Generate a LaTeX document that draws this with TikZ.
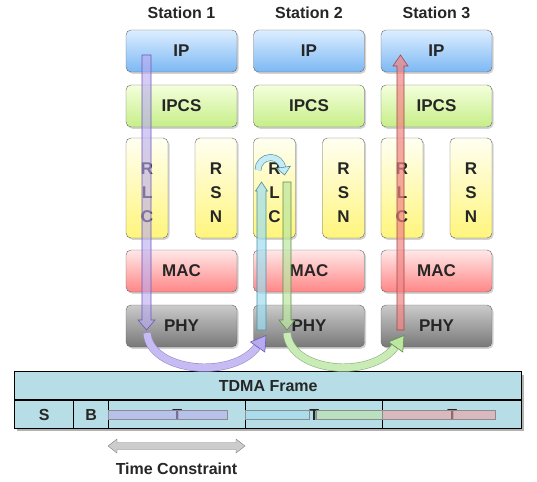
\documentclass[tikz,border=0pt]{standalone}
\usepackage{fontspec}
\setmainfont{Liberation Sans}
\usetikzlibrary{shadows}

\definecolor{ipTop}{HTML}{DDEEFF}
\definecolor{ipBot}{HTML}{7CB8F4}
\definecolor{ipcsTop}{HTML}{F4FFDC}
\definecolor{ipcsBot}{HTML}{C6EE88}
\definecolor{rlcTop}{HTML}{FFFFF2}
\definecolor{rlcBot}{HTML}{FFF57C}
\definecolor{macTop}{HTML}{FFE8E8}
\definecolor{macBot}{HTML}{FF8686}
\definecolor{phyTop}{HTML}{CBCBCB}
\definecolor{phyBot}{HTML}{787878}
\definecolor{frameBlue}{HTML}{B7DDE6}
\definecolor{txt}{HTML}{262626}
\definecolor{purA}{HTML}{B8AAF0}
\definecolor{purB}{HTML}{6F58B8}
\definecolor{cyaA}{HTML}{9FDDF0}
\definecolor{cyaB}{HTML}{4F8FA0}
\definecolor{grnA}{HTML}{BCE6A2}
\definecolor{grnB}{HTML}{5F8F48}
\definecolor{redA}{HTML}{F28484}
\definecolor{redB}{HTML}{A04848}

\tikzset{
  layer/.style={draw=black!60, rounded corners=5pt, minimum width=111pt,
    minimum height=42pt, inner sep=0pt, text=txt,
    font=\bfseries\fontsize{17}{24}\selectfont,
    drop shadow={shadow xshift=1.6pt, shadow yshift=-1.8pt, opacity=.35}},
  tall/.style={layer, minimum width=42pt, minimum height=100pt,
    top color=rlcTop, bottom color=rlcBot},
  letters/.style={align=center, text=txt, inner sep=0pt, yshift=-5pt,
    font=\bfseries\fontsize{17}{24}\selectfont},
  cell/.style={draw=black, line width=1.4pt, fill=frameBlue, inner sep=0pt,
    minimum height=28pt, anchor=north west, text=txt,
    font=\bfseries\fontsize{16}{16}\selectfont},
  title/.style={text=txt, font=\bfseries\fontsize{16}{16}\selectfont}
}

\begin{document}
\begin{tikzpicture}[x=1pt,y=-1pt]
            \useasboundingbox (0,0) rectangle (537,481);

            % Stations
            \foreach \i/\cx in {1/181.5,2/309,3/436.5}{
            \node[title] (st\i) at (\cx,13) {Station \i};
            \node[layer, top color=ipTop, bottom color=ipBot] (ip\i) at (\cx,51) {IP};
            \node[layer, top color=ipcsTop, bottom color=ipcsBot] (ipcs\i) at (\cx,106) {IPCS};
            \node[tall] (rlc\i) at (\cx-34.5,188) {};
            \node[letters] (rlct\i) at (rlc\i) {R\\L\\C};
            \node[tall] (rsn\i) at (\cx+34.5,188) {};
            \node[letters] (rsnt\i) at (rsn\i) {R\\S\\N};
            \node[layer, top color=macTop, bottom color=macBot] (mac\i) at (\cx,271) {MAC};
            \node[layer, top color=phyTop, bottom color=phyBot] (phy\i) at (\cx,326) {PHY};
            }

            % TDMA frame
            \fill[black!30] (17,375) rectangle (524,431);
            \node[cell, minimum width=507pt] (tdma) at (14,371) {TDMA Frame};
            \foreach \n/\x/\w/\lab in {s/14/59/S,b/73/35/B,t1/108/137/T,t2/245/137/T,t3/382/139/T}{
            \node[cell, minimum width=\w pt] (\n) at (\x,400) {\lab};
            }

            % slots
            \filldraw[fill=purA, draw=black!45, fill opacity=.55] (108,410.5) rectangle (227,419);
            \filldraw[fill=cyaA, draw=black!45, fill opacity=.55] (245,410.5) rectangle (309,419);
            \filldraw[fill=grnA, draw=black!45, fill opacity=.55] (316,410.5) rectangle (382,419);
            \filldraw[fill=redA!80, draw=black!45, fill opacity=.55] (382,410.5) rectangle (495,419);

            % Time constraint
            \filldraw[fill=black!20, draw=black!50] (108,446) -- (117,439) -- (117,442.5) -- (236,442.5)
            -- (236,439) -- (245,446) -- (236,453) -- (236,449.5) -- (117,449.5) -- (117,453) -- cycle;
            \node[title] (tc) at (176.5,469) {Time Constraint};

            % vertical arrows
            \filldraw[fill=purA, draw=purB, fill opacity=.6, line width=.6pt] (142,55) -- (151,55) -- (151,320)
            -- (155,320) -- (146.5,330) -- (138,320) -- (142,320) -- cycle;
            \filldraw[fill=cyaA, draw=cyaB, fill opacity=.7, line width=.6pt] (257,330) -- (266,330) -- (266,191)
            -- (267.5,191) -- (261.5,182) -- (255.5,191) -- (257,191) -- cycle;
            \filldraw[fill=grnA, draw=grnB, fill opacity=.7, line width=.6pt] (283,182) -- (291,182) -- (291,320)
            -- (295,320) -- (287,330) -- (279,320) -- (283,320) -- cycle;
            \filldraw[fill=redA, draw=redB, fill opacity=.7, line width=.6pt] (397,330) -- (404,330) -- (404,66)
            -- (408,66) -- (400.5,55) -- (393,66) -- (397,66) -- cycle;

            % turn in RLC
            \draw[draw=cyaB, double=cyaA!60, double distance=5.5pt, line width=.6pt]
            (258,170) arc[start angle=180, end angle=350, radius=12.5];
            \filldraw[fill=cyaA!60, draw=cyaB, line width=.6pt] (290.3,166.3) -- (284.6,175) -- (276.6,168.2) -- cycle;

            % curved arrows
            \draw[draw=purB!70, double=purA!80, double distance=7pt, line width=.6pt]
            (147,333) .. controls (150,372) and (232,380) .. (257,347);
            \filldraw[fill=purA, draw=purB, line width=.6pt] (264.8,352) -- (266,335.5) -- (250.5,342) -- cycle;
            \draw[draw=grnB!70, double=grnA!80, double distance=7pt, line width=.6pt]
            (287,333) .. controls (290,372) and (370,380) .. (395,347);
            \filldraw[fill=grnA, draw=grnB, line width=.6pt] (402.8,352) -- (404,335.5) -- (388.5,342) -- cycle;
        \end{tikzpicture}
\end{document}
